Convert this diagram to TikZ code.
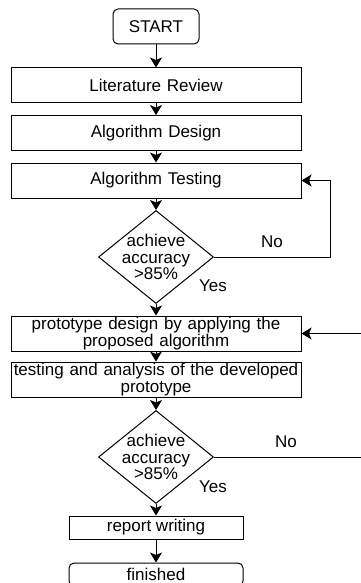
\documentclass[tikz,border=0pt]{standalone}
\usepackage{fontspec}
\setmainfont{Liberation Sans}
\usepackage{tikz}
\usetikzlibrary{calc}
\usetikzlibrary{arrows.meta}
\usetikzlibrary{shapes.geometric}

\begin{document}
\begin{tikzpicture}[x=1pt,y=1pt,font=\fontsize{17}{16.7}\selectfont]
      \tikzset{
        term/.style={draw, rectangle, rounded corners=5pt, line width=1pt, minimum height=35pt, minimum width=86pt},
        box/.style={draw, rectangle, line width=1pt, minimum height=35pt, minimum width=290pt, text width=286pt, align=center, inner xsep=2pt, inner ysep=1pt},
        small/.style={draw, rectangle, line width=1pt, minimum height=23pt, minimum width=174pt},
        decide/.style={draw, diamond, line width=1pt, minimum width=115pt, minimum height=93pt, inner sep=-8pt, aspect=1.25, align=center},
        line/.style={draw, line width=1pt, -{Stealth[length=10pt,width=12pt,inset=2.5pt]}},
      }
      \useasboundingbox (0,0) rectangle (361,-583);
      \node [term] (start) at (156,-26.5) {START};
      \node [box, below of = start, node distance=59pt] (lit) {Literature Review};
      \node [box, below of = lit, node distance=47.5pt] (design) {Algorithm Design};
      \node [box, below of = design, node distance=47.5pt] (test) {Algorithm Testing};
      \node [decide, below of = test, node distance=76.5pt] (dia1) {achieve\\accuracy\\>85\%};
      \node [box, below of = dia1, node distance=76.5pt] (proto) {prototype design by applying the\\proposed algorithm};
      \node [box, below of = proto, node distance=46pt] (anal) {testing and analysis of the developed\\prototype};
      \node [decide, below of = anal, node distance=77.5pt] (dia2) {achieve\\accuracy\\>85\%};
      \node [small, below of = dia2, node distance=70.5pt] (report) {report writing};
      \node [term, minimum width=174pt, minimum height=23pt, below of = report, node distance=47pt] (fin) {finished};

      \coordinate (in1) at (361,-333.5);
      \coordinate (out2) at (361,-457);

      \path [line] (start)--(lit);
      \path [line] (lit)--(design);
      \path [line] (design)--(test);
      \path [line] (test)--(dia1);
      \path [line] (dia1.east)--node[pos=.5, above=6pt]{No} (330,-257) |- (test.east);
      \path [line] (dia1)--(proto);
      \node at ($(dia1.south)+(57,18)$) {Yes};
      \path [line] (in1)--(proto.east);
      \path [line] (proto)--(anal);
      \path [line] (anal)--(dia2);
      \draw [line width=1pt] (dia2.east)--node[pos=.49, above=6pt]{No} (out2);
      \path [line] (dia2)--(report);
      \node at ($(dia2.south)+(57,17)$) {Yes};
      \path [line] (report)--(fin);
\end{tikzpicture}
\end{document}
